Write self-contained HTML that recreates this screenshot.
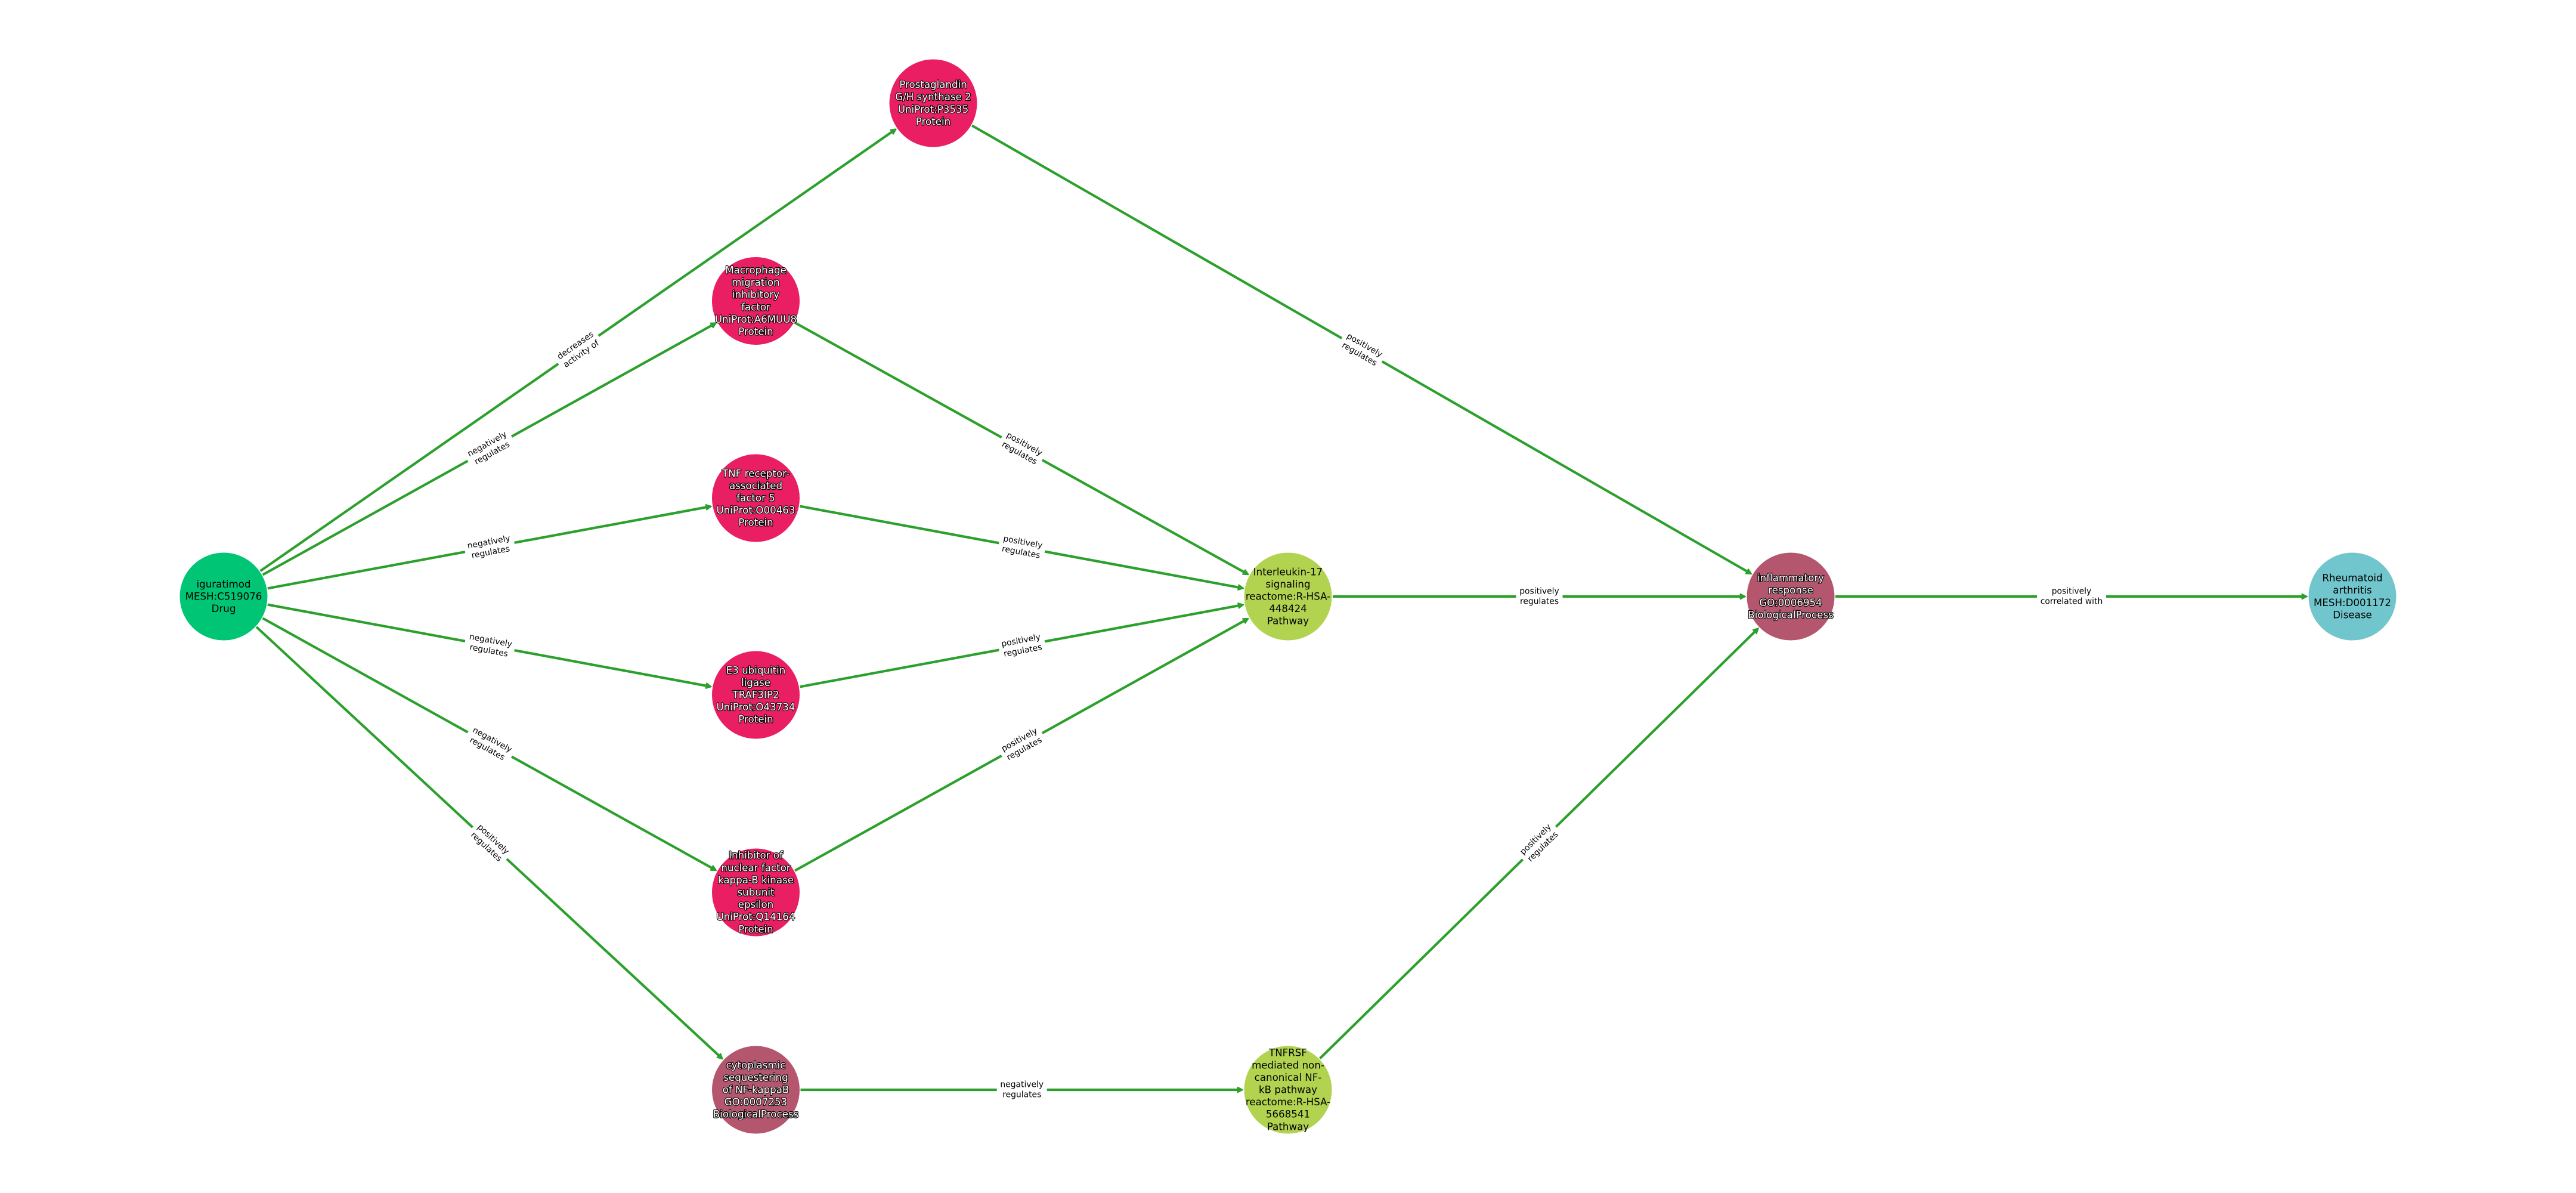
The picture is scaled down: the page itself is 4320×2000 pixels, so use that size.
<!DOCTYPE html>
<html>
<head>
<meta charset="utf-8">
<style>
html,body{margin:0;padding:0;background:#fff;width:4320px;height:2000px;overflow:hidden}
svg{display:block}
text{font-family:"DejaVu Sans","Liberation Sans",sans-serif;text-anchor:middle}
.n{font-size:16.67px;fill:#000;transform:translate(0,.5px)}
.w{font-size:16.67px;fill:#fff;stroke:#000;stroke-width:2.3px;paint-order:stroke;stroke-linejoin:round;transform:translate(0,.5px)}
.e{font-size:13.89px;fill:#000}
.l line{stroke:#2ca02c;stroke-width:4.2;marker-end:url(#a)}
</style>
</head>
<body>
<svg xmlns="http://www.w3.org/2000/svg" width="4320" height="2000" viewBox="0 0 4320 2000">
<defs>
<marker id="a" markerUnits="userSpaceOnUse" markerWidth="24" markerHeight="24" viewBox="0 0 24 24" refX="12" refY="12" orient="auto">
<path d="M8.5 7.6L17.2 12L8.5 16.4Z" fill="#2ca02c" stroke="#2ca02c" stroke-width="1.8" stroke-linejoin="round"/>
</marker>
</defs>
<rect width="4320" height="2000" fill="#fff"/>
<g class="l">
<line x1="436.6" y1="957.2" x2="1498.5" y2="219.2"/>
<line x1="440.6" y1="963.6" x2="1196.7" y2="543.8"/>
<line x1="448.8" y1="986.4" x2="1187.8" y2="849.7"/>
<line x1="448.8" y1="1013.6" x2="1187.8" y2="1150.3"/>
<line x1="440.6" y1="1036.4" x2="1196.7" y2="1456.7"/>
<line x1="430" y1="1051" x2="1208.1" y2="1771.9"/>
<line x1="1630" y1="210.4" x2="2932.8" y2="959.6"/>
<line x1="1333.1" y1="540.9" x2="2089.2" y2="960.7"/>
<line x1="1341.3" y1="848.6" x2="2080.3" y2="985.3"/>
<line x1="1341.3" y1="1151.4" x2="2080.3" y2="1014.7"/>
<line x1="1333.1" y1="1459.6" x2="2089.2" y2="1039.3"/>
<line x1="1342.5" y1="1827" x2="2079" y2="1827"/>
<line x1="2235" y1="1000" x2="2922" y2="1000"/>
<line x1="2213.5" y1="1774.5" x2="2945.2" y2="1056.7"/>
<line x1="3078" y1="1000" x2="3864" y2="1000"/>
</g>

<!-- edge labels -->
<g transform="translate(970 586.5) rotate(-34.8)"><rect x="-41" y="-20" width="82" height="41" rx="4" fill="#fff"/><text class="e" y="-4.6">decreases<tspan x="0" dy="17.2">activity of</tspan></text></g>
<g transform="translate(821.25 752.25) rotate(-29.04)"><rect x="-42" y="-20" width="84" height="41" rx="4" fill="#fff"/><text class="e" y="-4.6">negatively<tspan x="0" dy="17.2">regulates</tspan></text></g>
<g transform="translate(821.25 917.5) rotate(-10.47)"><rect x="-42" y="-20" width="84" height="41" rx="4" fill="#fff"/><text class="e" y="-4.6">negatively<tspan x="0" dy="17.2">regulates</tspan></text></g>
<g transform="translate(821.25 1082.5) rotate(10.47)"><rect x="-42" y="-20" width="84" height="41" rx="4" fill="#fff"/><text class="e" y="-4.6">negatively<tspan x="0" dy="17.2">regulates</tspan></text></g>
<g transform="translate(821.25 1248) rotate(29.06)"><rect x="-42" y="-20" width="84" height="41" rx="4" fill="#fff"/><text class="e" y="-4.6">negatively<tspan x="0" dy="17.2">regulates</tspan></text></g>
<g transform="translate(821.25 1413.5) rotate(42.8)"><rect x="-39" y="-20" width="78" height="41" rx="4" fill="#fff"/><text class="e" y="-4.6">positively<tspan x="0" dy="17.2">regulates</tspan></text></g>
<g transform="translate(2284 586.5) rotate(29.9)"><rect x="-39" y="-20" width="78" height="41" rx="4" fill="#fff"/><text class="e" y="-4.6">positively<tspan x="0" dy="17.2">regulates</tspan></text></g>
<g transform="translate(1713.75 752.25) rotate(29.04)"><rect x="-39" y="-20" width="78" height="41" rx="4" fill="#fff"/><text class="e" y="-4.6">positively<tspan x="0" dy="17.2">regulates</tspan></text></g>
<g transform="translate(1713.75 917.5) rotate(10.47)"><rect x="-39" y="-20" width="78" height="41" rx="4" fill="#fff"/><text class="e" y="-4.6">positively<tspan x="0" dy="17.2">regulates</tspan></text></g>
<g transform="translate(1713.75 1082.5) rotate(-10.47)"><rect x="-39" y="-20" width="78" height="41" rx="4" fill="#fff"/><text class="e" y="-4.6">positively<tspan x="0" dy="17.2">regulates</tspan></text></g>
<g transform="translate(1713.75 1248) rotate(-29.06)"><rect x="-39" y="-20" width="78" height="41" rx="4" fill="#fff"/><text class="e" y="-4.6">positively<tspan x="0" dy="17.2">regulates</tspan></text></g>
<g transform="translate(1713.75 1827)"><rect x="-42" y="-20" width="84" height="41" rx="4" fill="#fff"/><text class="e" y="-4.6">negatively<tspan x="0" dy="17.2">regulates</tspan></text></g>
<g transform="translate(2581.5 1000)"><rect x="-39" y="-20" width="78" height="41" rx="4" fill="#fff"/><text class="e" y="-4.6">positively<tspan x="0" dy="17.2">regulates</tspan></text></g>
<g transform="translate(2581.5 1413.5) rotate(-44.45)"><rect x="-39" y="-20" width="78" height="41" rx="4" fill="#fff"/><text class="e" y="-4.6">positively<tspan x="0" dy="17.2">regulates</tspan></text></g>
<g transform="translate(3474 1000)"><rect x="-58" y="-20" width="116" height="41" rx="4" fill="#fff"/><text class="e" y="-4.6">positively<tspan x="0" dy="17.2">correlated with</tspan></text></g>

<!-- nodes -->
<circle cx="375" cy="1000" r="73.5" fill="#00c574"/>
<circle cx="1565" cy="173" r="73.5" fill="#e91e63"/>
<circle cx="1267.5" cy="504.5" r="73.5" fill="#e91e63"/>
<circle cx="1267.5" cy="835" r="73.5" fill="#e91e63"/>
<circle cx="1267.5" cy="1165" r="73.5" fill="#e91e63"/>
<circle cx="1267.5" cy="1496" r="73.5" fill="#e91e63"/>
<circle cx="1267.5" cy="1827" r="73.5" fill="#b5566f"/>
<circle cx="2160" cy="1000" r="73.5" fill="#b2d350"/>
<circle cx="2160" cy="1827" r="73.5" fill="#b2d350"/>
<circle cx="3003" cy="1000" r="73.5" fill="#b5566f"/>
<circle cx="3945" cy="1000" r="73.5" fill="#70c6cc"/>

<!-- node labels -->
<text class="n" x="375" y="984.4">iguratimod<tspan x="375" dy="20.6">MESH:C519076</tspan><tspan x="375" dy="20.6">Drug</tspan></text>
<text class="w" x="1565" y="147.1">Prostaglandin<tspan x="1565" dy="20.6">G/H synthase 2</tspan><tspan x="1565" dy="20.6">UniProt:P3535</tspan><tspan x="1565" dy="20.6">Protein</tspan></text>
<text class="w" x="1267.5" y="458">Macrophage<tspan x="1267.5" dy="20.6">migration</tspan><tspan x="1267.5" dy="20.6">inhibitory</tspan><tspan x="1267.5" dy="20.6">factor</tspan><tspan x="1267.5" dy="20.6">UniProt:A6MUU8</tspan><tspan x="1267.5" dy="20.6">Protein</tspan></text>
<text class="w" x="1267.5" y="798.8">TNF receptor-<tspan x="1267.5" dy="20.6">associated</tspan><tspan x="1267.5" dy="20.6">factor 5</tspan><tspan x="1267.5" dy="20.6">UniProt:O00463</tspan><tspan x="1267.5" dy="20.6">Protein</tspan></text>
<text class="w" x="1267.5" y="1128.8">E3 ubiquitin<tspan x="1267.5" dy="20.6">ligase</tspan><tspan x="1267.5" dy="20.6">TRAF3IP2</tspan><tspan x="1267.5" dy="20.6">UniProt:O43734</tspan><tspan x="1267.5" dy="20.6">Protein</tspan></text>
<text class="w" x="1267.5" y="1439.2">Inhibitor of<tspan x="1267.5" dy="20.6">nuclear factor</tspan><tspan x="1267.5" dy="20.6">kappa-B kinase</tspan><tspan x="1267.5" dy="20.6">subunit</tspan><tspan x="1267.5" dy="20.6">epsilon</tspan><tspan x="1267.5" dy="20.6">UniProt:Q14164</tspan><tspan x="1267.5" dy="20.6">Protein</tspan></text>
<text class="w" x="1267.5" y="1790.8">cytoplasmic<tspan x="1267.5" dy="20.6">sequestering</tspan><tspan x="1267.5" dy="20.6">of NF-kappaB</tspan><tspan x="1267.5" dy="20.6">GO:0007253</tspan><tspan x="1267.5" dy="20.6">BiologicalProcess</tspan></text>
<text class="n" x="2160" y="963.8">Interleukin-17<tspan x="2160" dy="20.6">signaling</tspan><tspan x="2160" dy="20.6">reactome:R-HSA-</tspan><tspan x="2160" dy="20.6">448424</tspan><tspan x="2160" dy="20.6">Pathway</tspan></text>
<text class="n" x="2160" y="1770.2">TNFRSF<tspan x="2160" dy="20.6">mediated non-</tspan><tspan x="2160" dy="20.6">canonical NF-</tspan><tspan x="2160" dy="20.6">kB pathway</tspan><tspan x="2160" dy="20.6">reactome:R-HSA-</tspan><tspan x="2160" dy="20.6">5668541</tspan><tspan x="2160" dy="20.6">Pathway</tspan></text>
<text class="w" x="3003" y="974.1">inflammatory<tspan x="3003" dy="20.6">response</tspan><tspan x="3003" dy="20.6">GO:0006954</tspan><tspan x="3003" dy="20.6">BiologicalProcess</tspan></text>
<text class="n" x="3945" y="974.1">Rheumatoid<tspan x="3945" dy="20.6">arthritis</tspan><tspan x="3945" dy="20.6">MESH:D001172</tspan><tspan x="3945" dy="20.6">Disease</tspan></text>
</svg>
</body>
</html>
